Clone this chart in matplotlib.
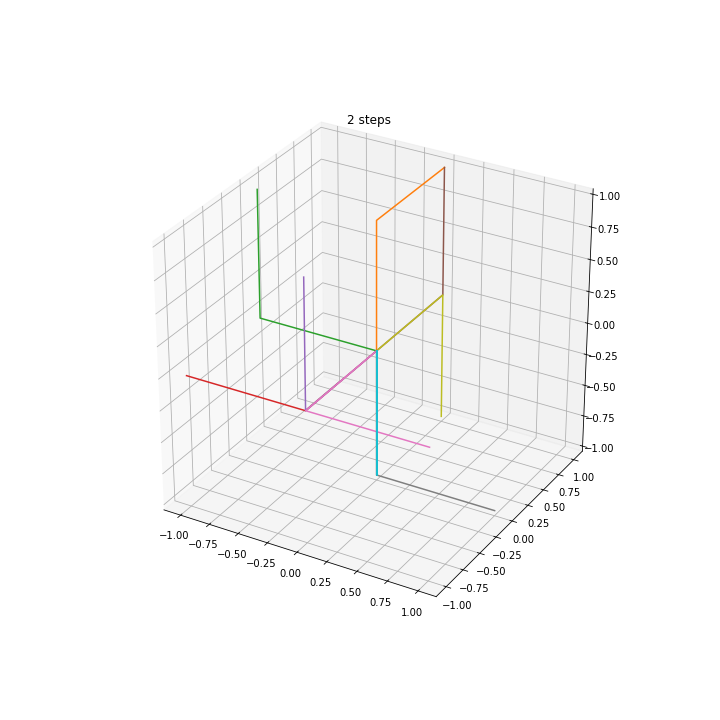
import matplotlib
matplotlib.use('Agg')
import matplotlib.pyplot as plt

plt.rcParams['axes3d.automargin'] = True

# each walk: x, y, z positions after 0, 1, 2 steps
walks_x = [[0, 0, 0], [0, 0, 0], [0, -1, -1], [0, 0, -1], [0, 0, 0],
           [0, 0, 0], [0, 0, 1], [0, 0, 1], [0, 0, 0], [0, 0, 0]]
walks_y = [[0, 0, 0], [0, 0, 1], [0, 0, 0], [0, -1, -1], [0, -1, -1],
           [0, 1, 1], [0, -1, -1], [0, 0, 0], [0, 1, 1], [0, 0, 0]]
walks_z = [[0, -1, 0], [0, 1, 1], [0, 0, 1], [0, 0, 0], [0, 0, 1],
           [0, 0, 1], [0, 0, 0], [0, -1, -1], [0, 0, -1], [0, -1, 0]]

fig = plt.figure(figsize=(10, 10), dpi=72)
ax = fig.add_subplot(111, projection='3d')
ax.set_box_aspect((1, 1, 1), zoom=0.9467)
# keep the full subplot rectangle instead of forcing it square
ax.apply_aspect = lambda position=None: None
ax.set_position([0.125, 0.125, 0.775, 0.755])

for xs, ys, zs in zip(walks_x, walks_y, walks_z):
    ax.plot(xs, ys, zs)

ax.set_title('2 steps', y=1)

plt.savefig('out.png')
